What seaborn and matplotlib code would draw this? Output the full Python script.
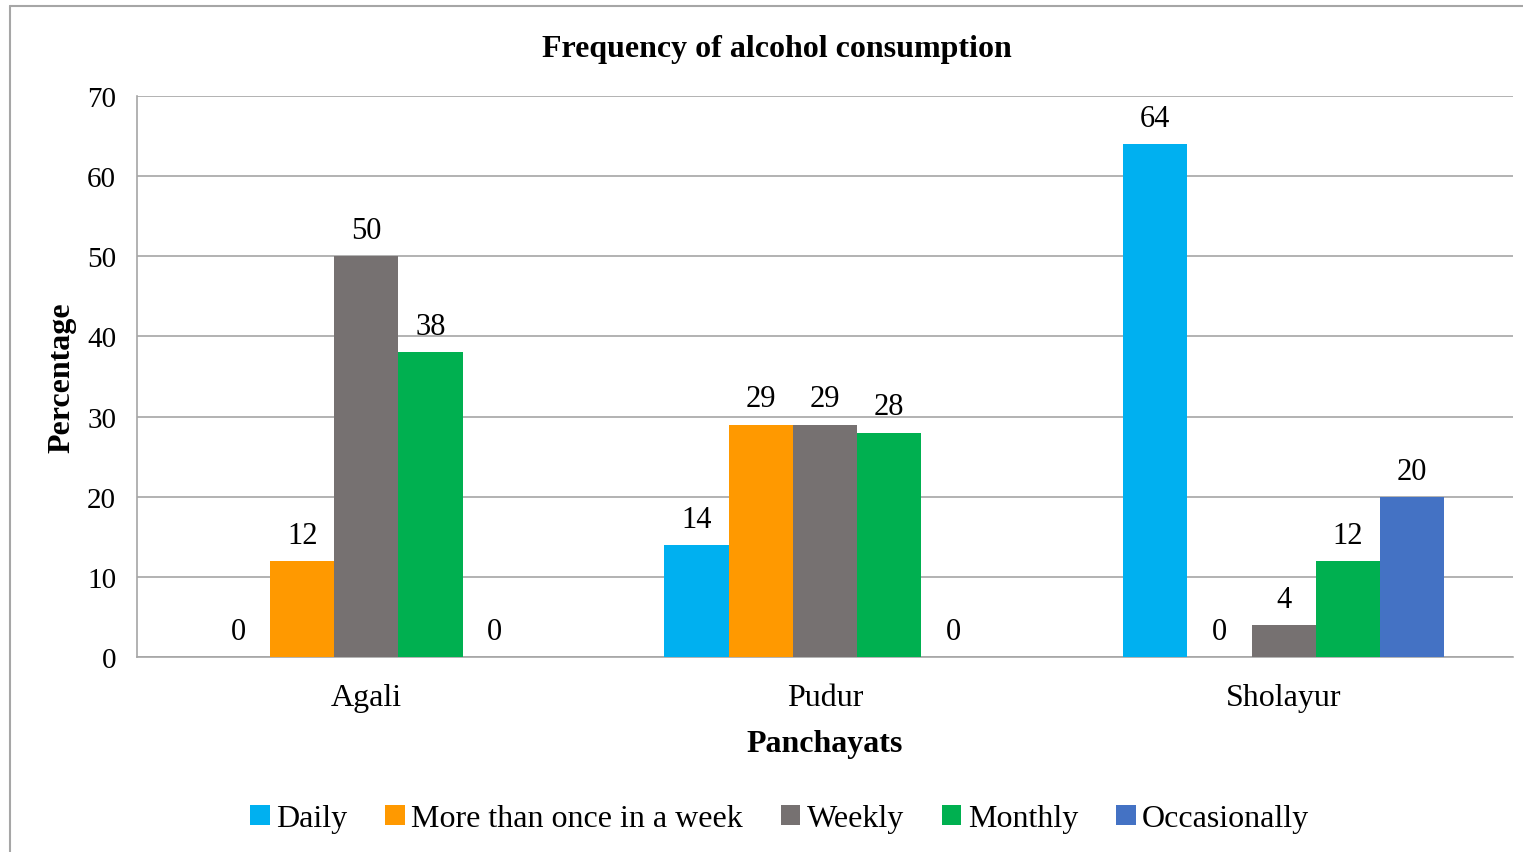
import pandas as pd
import matplotlib.pyplot as plt
import seaborn as sns
from matplotlib.lines import Line2D

# data
panchayats = ['Agali', 'Pudur', 'Sholayur']
frequencies = ['Daily', 'More than once in a week', 'Weekly', 'Monthly', 'Occasionally']
daily = [0, 14, 64]
more_than_once = [12, 29, 0]
weekly = [50, 29, 4]
monthly = [38, 28, 12]
occasionally = [0, 0, 20]

colors = ['#00B0F0', '#FF9900', '#767171', '#00B050', '#4472C4']

rows = []
for freq, vals in zip(frequencies, [daily, more_than_once, weekly, monthly, occasionally]):
    for p, v in zip(panchayats, vals):
        rows.append({'Panchayat': p, 'Frequency': freq, 'Percentage': v})
df = pd.DataFrame(rows)

sns.set_style('white')
plt.rcParams['font.family'] = ['Liberation Serif', 'DejaVu Serif']
plt.rcParams['text.color'] = 'black'
plt.rcParams['axes.labelcolor'] = 'black'
plt.rcParams['xtick.color'] = 'black'
plt.rcParams['ytick.color'] = 'black'

fig = plt.figure(figsize=(15.23, 8.53), dpi=100)
ax = fig.add_axes([0.09, 0.2286, 0.9034, 0.6577])

sns.barplot(data=df, x='Panchayat', y='Percentage', hue='Frequency',
            order=panchayats, hue_order=frequencies,
            palette=dict(zip(frequencies, colors)),
            width=0.7, gap=0, saturation=1, linewidth=0, ax=ax, zorder=3)

for cont in ax.containers:
    ax.bar_label(cont, fmt='%d', padding=8, fontsize=22, color='black')

ax.set_ylim(0, 70)
ax.set_yticks(range(0, 71, 10))
ax.yaxis.grid(True, color='#A6A6A6', linewidth=1.2, zorder=0)
ax.set_axisbelow(True)
for side in ['top', 'right']:
    ax.spines[side].set_visible(False)
for side in ['left', 'bottom']:
    ax.spines[side].set_color('#A6A6A6')
    ax.spines[side].set_linewidth(1.2)

ax.tick_params(axis='y', labelsize=21, length=0, pad=15)
ax.tick_params(axis='x', labelsize=23, length=0, pad=19)

ax.set_xlabel('Panchayats', fontsize=23, fontweight='bold', labelpad=12)
ax.set_ylabel('Percentage', fontsize=23, fontweight='bold', labelpad=8)
fig.text(0.51, 0.933, 'Frequency of alcohol consumption', ha='center',
         fontsize=23, fontweight='bold')

handles, labels = ax.get_legend_handles_labels()
ax.get_legend().remove()
fig.legend(handles, labels, loc='center', bbox_to_anchor=(0.512, 0.039),
           ncol=5, frameon=False, fontsize=23, handlelength=0.6,
           handleheight=0.6, handletextpad=0.2, columnspacing=1.2)

# outer chart frame
fig.add_artist(Line2D([0.0066, 1.0], [0.9918, 0.9918], color='#A6A6A6',
                      linewidth=1.5, transform=fig.transFigure))
fig.add_artist(Line2D([0.0066, 0.0066], [0.0, 0.9918], color='#A6A6A6',
                      linewidth=1.5, transform=fig.transFigure))

fig.savefig('out.png', dpi=100)
